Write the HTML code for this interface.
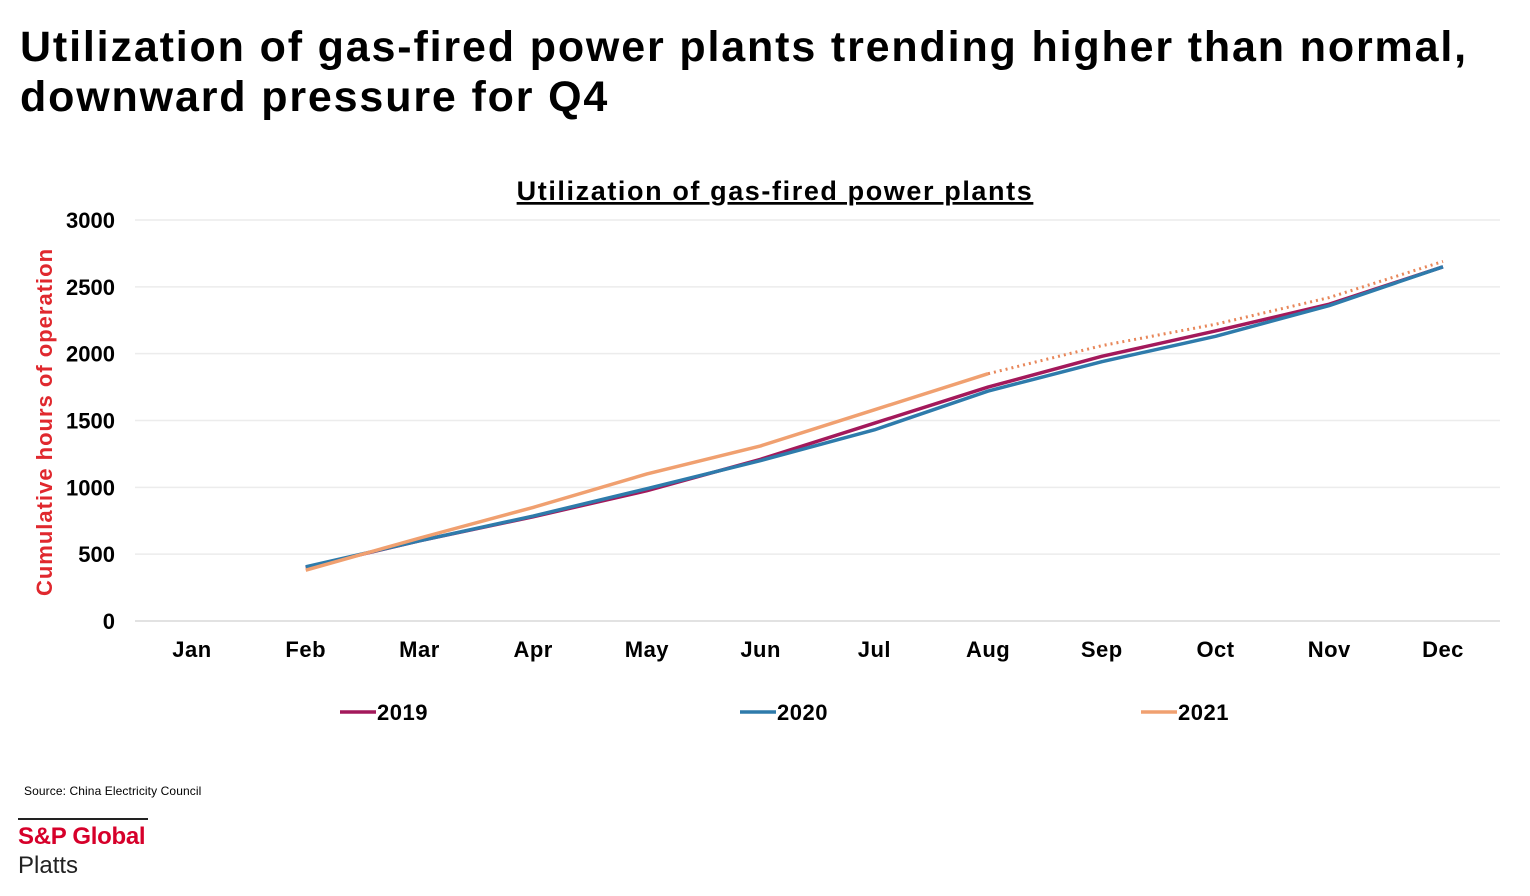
<!DOCTYPE html>
<html><head><meta charset="utf-8"><style>
body{margin:0;width:1530px;height:896px;background:#fff;font-family:"Liberation Sans",Arial,sans-serif;overflow:hidden}
#title{position:absolute;left:20px;top:22px;font-size:43px;font-weight:bold;line-height:50px;color:#000;letter-spacing:1.85px;white-space:nowrap}
#src{position:absolute;left:24px;top:784px;font-size:12px;color:#000;letter-spacing:0.1px}
#logo{position:absolute;left:18px;top:818px;width:130px;border-top:2px solid #222}
#logo .a{color:#d6002a;font-weight:bold;font-size:24px;line-height:34px;letter-spacing:-0.3px}
#logo .b{color:#222;font-size:24px;line-height:24px}
</style></head><body>
<div id="title">Utilization of gas-fired power plants trending higher than normal,<br>downward pressure for Q4</div>
<svg id="chart" width="1530" height="896" style="position:absolute;left:0;top:0"></svg>
<div id="src">Source: China Electricity Council</div>
<div id="logo"><div class="a">S&amp;P Global</div><div class="b">Platts</div></div>
<script>
const months=["Jan","Feb","Mar","Apr","May","Jun","Jul","Aug","Sep","Oct","Nov","Dec"];
const yTicks=[0,500,1000,1500,2000,2500,3000];
const s2019=[null,400,600,780,975,1210,1480,1750,1980,2170,2370,2650];
const s2020=[null,405,600,785,990,1200,1430,1720,1940,2130,2360,2650];
const s2021=[null,380,620,850,1100,1310,1580,1850,null,null,null,null];
const s2021f=[null,null,null,null,null,null,null,1850,2060,2220,2420,2690];
const NS="http://www.w3.org/2000/svg";
const svg=document.getElementById('chart');
const x=i=>192+i*(1443-192)/11;
const y=v=>621-v*(621-220)/3000;
function mk(t,a,p){const e=document.createElementNS(NS,t);for(const k in a)e.setAttribute(k,a[k]);(p||svg).appendChild(e);return e;}
const ct=mk('text',{x:775,y:200,'text-anchor':'middle','font-size':27,'font-weight':'bold','text-decoration':'underline','letter-spacing':1.6});
ct.textContent='Utilization of gas-fired power plants';


yTicks.forEach(v=>{
 const g=mk('line',{x1:135,x2:1500,y1:y(v),y2:y(v),stroke:v===0?'#d9d9d9':'#ececec','stroke-width':1.5});
 
 
 const t=mk('text',{x:115,y:y(v)+8,'text-anchor':'end','font-size':22,'font-weight':'bold'});
 t.textContent=v;
 
 
});
months.forEach((m,i)=>{
 const t=mk('text',{x:x(i),y:657,'text-anchor':'middle','font-size':22,'font-weight':'bold','letter-spacing':0.5});
 t.textContent=m;
 
 
});
const yt=mk('text',{transform:'translate(52,422) rotate(-90)','text-anchor':'middle','font-size':22,'font-weight':'bold',fill:'#e0282e','letter-spacing':1});
yt.textContent='Cumulative hours of operation';


function line(arr,col,name,dash){
 const pts=[];arr.forEach((v,i)=>{if(v!==null)pts.push(x(i)+','+y(v));});
 const a={points:pts.join(' '),fill:'none',stroke:col,'stroke-width':dash?3:3.5,'stroke-linejoin':'round'};
 if(dash)a['stroke-dasharray']='2 4';
 const p=mk('polyline',a);
 
 
}
line(s2019,'#a3195b','line-2019');
line(s2020,'#2e7bab','line-2020');
line(s2021,'#f0a070','line-2021');
line(s2021f,'#e8875a','line-2021-forecast',true);
[['2019','#a3195b',340],['2020','#2e7bab',740],['2021','#f0a070',1141]].forEach(([n,c,lx])=>{
 const l=mk('line',{x1:lx,x2:lx+36,y1:712,y2:712,stroke:c,'stroke-width':3.5});
 
 
 const t=mk('text',{x:lx+37,y:720,'font-size':22,'font-weight':'bold','letter-spacing':0.5});
 t.textContent=n;
 
 
});
</script>
</body></html>
